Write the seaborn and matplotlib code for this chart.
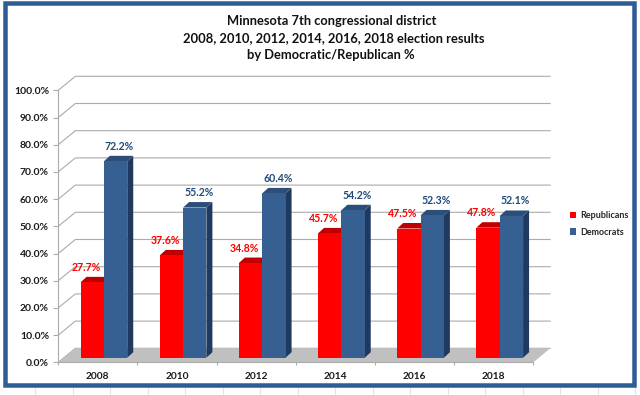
import numpy as np
import pandas as pd
import matplotlib
matplotlib.use("Agg")
import matplotlib.pyplot as plt
import matplotlib.transforms as mtransforms
from matplotlib.patches import Polygon, Rectangle, Patch
from matplotlib.lines import Line2D
import seaborn as sns

# ---------------- data ----------------
years = ["2008", "2010", "2012", "2014", "2016", "2018"]
series = ["Republicans", "Democrats"]
republicans = [27.7, 37.6, 34.8, 45.7, 47.5, 47.8]
democrats = [72.2, 55.2, 60.4, 54.2, 52.3, 52.1]
y_ticks = [0, 10, 20, 30, 40, 50, 60, 70, 80, 90, 100]
title_lines = ["Minnesota 7th congressional district",
               "2008, 2010, 2012, 2014, 2016, 2018 election results",
               "by Democratic/Republican %"]

# ---------------- style ----------------
sns.set_style("white")
plt.rcParams["font.family"] = ["Lato", "DejaVu Sans"]

W, H = 640, 395
DPI = 100
RED, RED_DARK, RED_SIDE = "#FF0000", "#C00000", "#B00000"
BLUE, BLUE_TOP, BLUE_SIDE = "#376092", "#2C4E79", "#1F3A5E"
GRID = "#ABABAB"
FLOOR = "#C0C0C0"
BORDER = "#2E5C94"

fig = plt.figure(figsize=(W / DPI, H / DPI), dpi=DPI)
fig.patch.set_facecolor("white")


def fx(px):
    return px / W


def fy(py):
    return 1 - py / H


front_left, front_right = 58.3, 533.3
front_bottom, front_top = 362.3, 90.3
ax = fig.add_axes([fx(front_left), fy(front_bottom),
                   (front_right - front_left) / W, (front_bottom - front_top) / H])
ax.set_facecolor("none")

df = pd.DataFrame({
    "year": years * 2,
    "party": [series[0]] * len(years) + [series[1]] * len(years),
    "pct": republicans + democrats,
})

sns.barplot(data=df, x="year", y="pct", hue="party", hue_order=series,
            palette=[RED, BLUE], width=0.59, gap=0, saturation=1,
            errorbar=None, legend=False, ax=ax, linewidth=0, zorder=3)

ax.set_xlim(-0.5, len(years) - 0.5)
ax.set_ylim(0, 100)

# offsets (pixels) for the pseudo-3D look
BAR_DX, BAR_DY = 6.0, 4.6      # bars stand a little behind the front plane
DEP_DX, DEP_DY = 6.0, 5.5      # bar depth
WALL_DX, WALL_DY = 17.0, 14.0  # back wall

bar_off = mtransforms.ScaledTranslation(BAR_DX / DPI, BAR_DY / DPI, fig.dpi_scale_trans)
bar_trans = ax.transData + bar_off
ident = mtransforms.IdentityTransform()

# floor
fl = ax.transData.transform((-0.5, 0))
fr = ax.transData.transform((len(years) - 0.5, 0))
floor = Polygon([fl, fr, fr + (WALL_DX, WALL_DY), fl + (WALL_DX, WALL_DY)],
                closed=True, transform=ident, facecolor=FLOOR, edgecolor="none",
                zorder=0.5, clip_on=False)
ax.add_patch(floor)

# back wall gridlines + left wall diagonals
for v in y_ticks:
    p0 = ax.transData.transform((-0.5, v))
    p1 = p0 + (WALL_DX, WALL_DY)
    p2 = ax.transData.transform((len(years) - 0.5, v)) + (WALL_DX, WALL_DY)
    ax.add_line(Line2D([p0[0], p1[0], p2[0]], [p0[1], p1[1], p2[1]], transform=ident,
                       color=GRID, lw=0.8, zorder=0.4, clip_on=False))

# 3D faces of bars + labels
label_colors = [RED, "#1F497D"]
label_dx = [-6, 4]
top_colors = [RED_DARK, BLUE_TOP]
side_colors = [RED_SIDE, BLUE_SIDE]
for hi, cont in enumerate(ax.containers):
    for bar in cont:
        bar.set_transform(bar_trans)
        bar.set_zorder(3)
        x0, x1 = bar.get_x(), bar.get_x() + bar.get_width()
        h = bar.get_height()
        b = bar_trans.transform((x1, 0))
        c = bar_trans.transform((x1, h))
        d = bar_trans.transform((x0, h))
        dd = np.array((DEP_DX, DEP_DY))
        side = Polygon([b, b + dd, c + dd, c], closed=True, transform=ident,
                       facecolor=side_colors[hi], edgecolor="none", zorder=2, clip_on=False)
        top = Polygon([d, c, c + dd, d + dd], closed=True, transform=ident,
                      facecolor=top_colors[hi], edgecolor="none", zorder=2, clip_on=False)
        ax.add_patch(side)
        ax.add_patch(top)
        ax.annotate(f"{h:.1f}%", xy=((x0 + x1) / 2, h), xycoords=bar_trans,
                    xytext=(label_dx[hi], 15), textcoords="offset pixels",
                    ha="center", va="center", fontsize=7.6, fontweight="bold",
                    color=label_colors[hi], zorder=5, annotation_clip=False)

# axes styling
for s in ["top", "right"]:
    ax.spines[s].set_visible(False)
for s in ["left", "bottom"]:
    ax.spines[s].set_color(GRID)
    ax.spines[s].set_linewidth(0.8)
    ax.spines[s].set_zorder(4)

ax.set_yticks(y_ticks)
ax.set_yticklabels([f"{v:.1f}%" for v in y_ticks])
ax.tick_params(axis="y", which="major", left=True, length=3.6, width=0.8, color=GRID,
               pad=3.1, labelsize=7.5, labelcolor="#1a1a1a")
ax.set_xticks(range(len(years)))
ax.set_xticklabels(years)
ax.set_xticks(np.arange(-0.5, len(years), 1), minor=True)
ax.tick_params(axis="x", which="major", bottom=True, length=0, pad=7.0, labelsize=7.3,
               labelcolor="#1a1a1a")
ax.tick_params(axis="x", which="minor", bottom=True, length=2.2, width=0.8, color=GRID)
for t in ax.get_xticklabels() + ax.get_yticklabels():
    t.set_fontweight("bold")
ax.set_xlabel("")
ax.set_ylabel("")
ax.grid(False)

# legend
handles = [Patch(facecolor=RED, edgecolor="none"), Patch(facecolor=BLUE, edgecolor="none")]
fig.legend(handles, series, loc="upper left", bbox_to_anchor=(fx(570), fy(211)),
           frameon=False, handlelength=0.7, handleheight=0.7, handletextpad=0.4,
           labelspacing=0.85, borderpad=0, borderaxespad=0,
           prop={"size": 6.5, "weight": "bold"})

# title
renderer = fig.canvas.get_renderer()
title_y = [20.7, 38.3, 55.0]
title_x = [331.5, 334.0, 330.6]
ts = []
for txt, xx, yy in zip(title_lines, title_x, title_y):
    t = fig.text(fx(xx), fy(yy), txt, ha="center", va="center", fontsize=10,
                 fontweight="bold", color="#111111")
    ts.append(t)
w = ts[1].get_window_extent(renderer).width
scale = 302.0 / w
for t in ts:
    t.set_fontsize(10 * scale)

# chart border and faint sheet gridlines outside it
for k in range(18):
    xv = 35 + 37.5 * k
    fig.add_artist(Line2D([fx(xv), fx(xv)], [fy(388), fy(395)], transform=fig.transFigure,
                          color="#E3E3E3", lw=0.8, zorder=0))
fig.add_artist(Rectangle((fx(5), fy(385)), fx(634) - fx(5), fy(3) - fy(385),
                         transform=fig.transFigure, fill=False, edgecolor=BORDER,
                         lw=4.5 * 72 / DPI, zorder=10))

fig.savefig("out.png", dpi=DPI, facecolor="white")
